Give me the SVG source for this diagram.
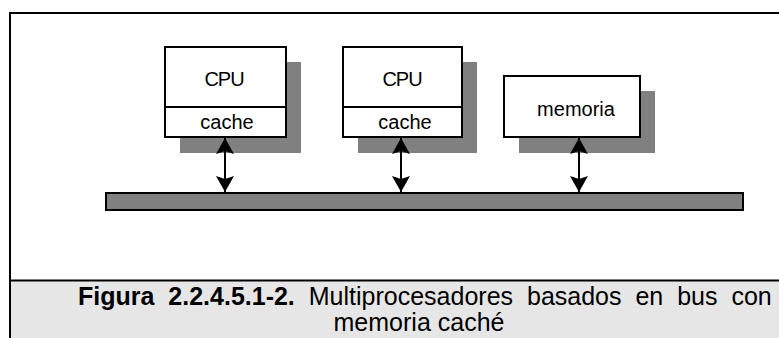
<svg xmlns="http://www.w3.org/2000/svg" width="779" height="338" viewBox="0 0 779 338">
<defs>
<style>
.shadow{fill:#808080;stroke:none}
.box{fill:#fff;stroke:#000;stroke-width:2}
.lbl{font-family:"Liberation Sans",Arial,sans-serif;font-size:20px;fill:#000;text-anchor:middle}
.bus{fill:#808080;stroke:#000;stroke-width:2}
.conn{stroke:#000;stroke-width:2;fill:none}
.cap{font-family:"Liberation Sans",Arial,sans-serif;font-size:25px;fill:#000}
</style>
<marker id="ah" viewBox="0 0 16 18" refX="16" refY="9" markerWidth="16" markerHeight="18" markerUnits="userSpaceOnUse" orient="auto-start-reverse">
<path d="M16,9 L0,0 L3,9 L0,18 Z" fill="#000"/>
</marker>
</defs>
<rect x="0" y="0" width="779" height="338" fill="#fff"/>
<rect x="10" y="281" width="769" height="57" fill="#e6e6e6"/>
<path d="M10,338 L10,13 L779,13 M10,280.5 L779,280.5" fill="none" stroke="#000" stroke-width="2"/>
<g id="cpu1">
<rect class="shadow" x="180" y="62" width="121" height="91"/>
<rect class="box" x="165" y="47" width="121" height="90"/>
<line x1="165" y1="107" x2="286" y2="107" stroke="#000" stroke-width="2"/>
<text class="lbl" x="224" y="86" letter-spacing="-1">CPU</text>
<text class="lbl" x="227" y="129">cache</text>
</g>
<g id="cpu2">
<rect class="shadow" x="358" y="62" width="119" height="91"/>
<rect class="box" x="343" y="47" width="119" height="90"/>
<line x1="343" y1="107" x2="462" y2="107" stroke="#000" stroke-width="2"/>
<text class="lbl" x="402" y="86" letter-spacing="-1">CPU</text>
<text class="lbl" x="405" y="129">cache</text>
</g>
<g id="mem">
<rect class="shadow" x="519" y="91" width="136" height="62"/>
<rect class="box" x="504" y="76" width="136" height="61"/>
<text class="lbl" x="576" y="116">memoria</text>
</g>
<g id="bus">
<rect class="bus" x="106" y="193" width="637" height="17"/>
</g>
<g id="connectors">
<line class="conn" x1="225" y1="138" x2="225" y2="192" marker-start="url(#ah)" marker-end="url(#ah)"/>
<line class="conn" x1="401" y1="138" x2="401" y2="192" marker-start="url(#ah)" marker-end="url(#ah)"/>
<line class="conn" x1="579" y1="138" x2="579" y2="192" marker-start="url(#ah)" marker-end="url(#ah)"/>
</g>
<g id="caption">
<text class="cap" x="78" y="305" font-size="25.5" word-spacing="7"><tspan font-weight="bold">Figura 2.2.4.5.1-2.</tspan> Multiprocesadores basados en bus con</text>
<text class="cap" x="419" y="331" font-size="24.5" text-anchor="middle">memoria caché</text>
</g>
</svg>
